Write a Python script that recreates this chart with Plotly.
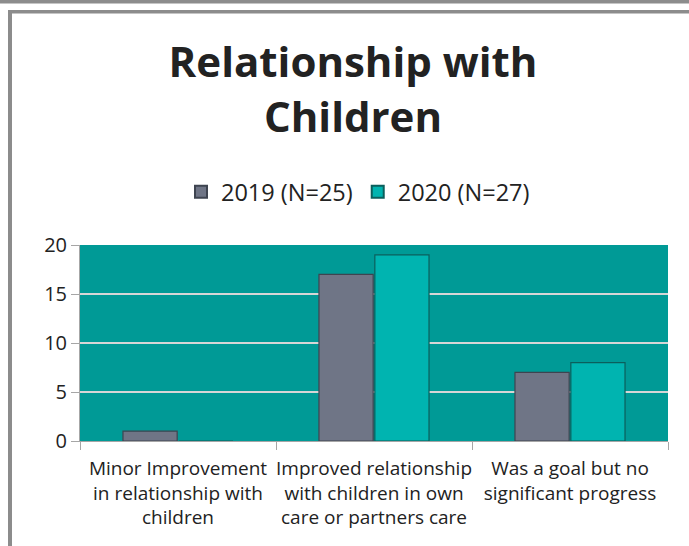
import plotly.graph_objects as go

categories = [
    "Minor Improvement<br>in relationship with<br>children",
    "Improved relationship<br>with children in own<br>care or partners care",
    "Was a goal but no<br>significant progress",
]
series_names = ["2019 (N=25)", "2020 (N=27)"]
values_2019 = [1, 17, 7]
values_2020 = [0, 19, 8]
y_ticks = [0, 5, 10, 15, 20]

W, H = 689, 546
L, R, T, B = 80, 668, 245, 441  # plot area in px


def px_x(px):
    return (px - L) / (R - L)


def px_y(py):
    return (B - py) / (B - T)


fig = go.Figure()
fig.add_trace(go.Bar(
    name=series_names[0], x=categories, y=values_2019,
    marker=dict(color="#6f7586", line=dict(color="#3e4450", width=1.2)),
))
fig.add_trace(go.Bar(
    name=series_names[1], x=categories, y=values_2020,
    marker=dict(color="#00b4b0", line=dict(color="#0b5f5c", width=1.2)),
))

frame = "#8c8c8c"
shapes = [
    dict(type="rect", xref="paper", yref="paper", x0=px_x(0), x1=px_x(W), y0=px_y(0), y1=px_y(3.5),
         fillcolor=frame, line=dict(width=0), layer="below"),
    dict(type="rect", xref="paper", yref="paper", x0=px_x(8), x1=px_x(W), y0=px_y(10), y1=px_y(13.5),
         fillcolor=frame, line=dict(width=0), layer="below"),
    dict(type="rect", xref="paper", yref="paper", x0=px_x(8), x1=px_x(12), y0=px_y(10), y1=px_y(H),
         fillcolor=frame, line=dict(width=0), layer="below"),
]

fig.update_layout(
    width=W, height=H,
    margin=dict(l=L, r=W - R, t=T, b=H - B, pad=0, autoexpand=False),
    paper_bgcolor="white",
    plot_bgcolor="#009a96",
    barmode="group",
    bargap=0.43,
    bargroupgap=0.03,
    title=dict(
        text="<b>Relationship with<br>Children</b>",
        x=353 / W, xanchor="center", xref="container",
        y=1 - 77 / H, yanchor="top", yref="container",
        font=dict(family="Open Sans", size=42, color="#222222"),
    ),
    legend=dict(
        orientation="h", x=358 / W, xanchor="center", xref="container",
        y=1 - 192 / H, yanchor="middle", yref="container",
        font=dict(family="Open Sans", size=23.5, color="#222222"),
        itemsizing="constant", traceorder="normal",
        bgcolor="rgba(0,0,0,0)",
    ),
    shapes=shapes,
    xaxis=dict(
        tickson="boundaries", ticks="outside", ticklen=8, tickcolor="#a6a6a6",
        showline=True, linecolor="#a6a6a6", linewidth=1,
        tickfont=dict(family="Open Sans", size=19, color="#222222"),
        tickangle=0, automargin=False, ticklabelstandoff=10,
        showgrid=False,
    ),
    yaxis=dict(
        range=[0, 20], tickvals=y_ticks, ticks="outside", ticklen=8, tickcolor="#a6a6a6",
        showline=True, linecolor="#a6a6a6", linewidth=1,
        gridcolor="#d6d6d6", gridwidth=2,
        zeroline=True, zerolinecolor="#a6a6a6", zerolinewidth=1,
        tickfont=dict(family="Open Sans", size=20, color="#222222"),
        automargin=False,
    ),
)

fig.write_html(
    "out.html",
    config={"displayModeBar": False},
    post_script="document.body.style.margin='0px';",
)
